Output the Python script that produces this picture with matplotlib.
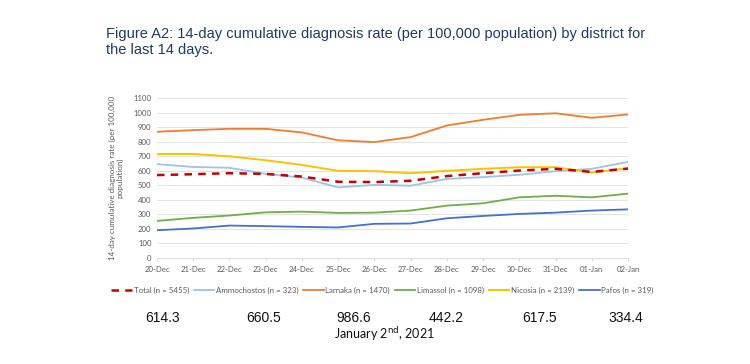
import matplotlib
matplotlib.use('Agg')
import matplotlib.pyplot as plt

# Datos
dates = ['20-Dec', '21-Dec', '22-Dec', '23-Dec', '24-Dec', '25-Dec', '26-Dec',
         '27-Dec', '28-Dec', '29-Dec', '30-Dec', '31-Dec', '01-Jan', '02-Jan']
total = [570, 576, 583, 578, 560, 524, 522, 531, 563, 583, 601, 613, 592, 614.3]
ammochostos = [645, 626, 620, 578, 553, 485, 503, 497, 544, 556, 572, 597, 613, 660.5]
larnaka = [868, 879, 888, 888, 863, 809, 797, 831, 911, 950, 984, 995, 964, 986.6]
limassol = [255, 276, 292, 314, 319, 310, 312, 326, 360, 376, 417, 428, 417, 442.2]
nicosia = [715, 715, 699, 672, 640, 599, 597, 583, 599, 613, 624, 624, 588, 617.5]
pafos = [191, 203, 223, 219, 214, 210, 235, 237, 273, 289, 303, 312, 326, 334.4]

series_labels = ['Total (n = 5455)', 'Ammochostos (n = 323)', 'Larnaka (n = 1470)',
                 'Limassol (n = 1098)', 'Nicosia (n = 2139)', 'Pafos (n = 319)']
last_values = ['614.3', '660.5', '986.6', '442.2', '617.5', '334.4']

plt.rcParams['font.family'] = ['Lato', 'DejaVu Sans']

fig = plt.figure(figsize=(7.5, 3.64), dpi=100)
ax = fig.add_axes([0.2093, 0.2912, 0.628, 0.4396])

x = list(range(len(dates)))
ax.plot(x, ammochostos, color='#9DC3E6', lw=1.3, label=series_labels[1])
ax.plot(x, larnaka, color='#ED7D31', lw=1.3, label=series_labels[2])
ax.plot(x, limassol, color='#70AD47', lw=1.3, label=series_labels[3])
ax.plot(x, nicosia, color='#FFC000', lw=1.4, label=series_labels[4])
ax.plot(x, pafos, color='#4472C4', lw=1.3, label=series_labels[5])
ax.plot(x, total, color='#C00000', lw=1.8, ls=(0, (3, 2.5)), label=series_labels[0])

ax.set_xlim(0, len(dates) - 1)
ax.set_ylim(0, 1100)
ax.set_yticks(range(0, 1101, 100))
ax.set_xticks(x)
ax.set_xticklabels(dates)
ax.tick_params(axis='both', labelsize=5.6, colors='#595959', length=0, pad=4)
ax.tick_params(axis='x', length=2, color='#D9D9D9', direction='out')
ax.grid(axis='y', color='#E3E3E3', lw=0.7)
ax.set_axisbelow(True)
for s in ['top', 'right', 'left']:
    ax.spines[s].set_visible(False)
ax.spines['bottom'].set_color('#D9D9D9')
ax.spines['bottom'].set_linewidth(0.7)

ax.set_ylabel('14-day cumulative diagnosis rate (per 100,000\npopulation)',
              fontsize=5.8, color='#595959', labelpad=7, linespacing=1.05)

# Leyenda en el orden original
handles, labels = ax.get_legend_handles_labels()
order = [5, 0, 1, 2, 3, 4]
fig.legend([handles[i] for i in order], [labels[i] for i in order],
           loc='center', bbox_to_anchor=(0.51, 0.203), ncol=6, fontsize=5.7,
           frameon=False, handlelength=2.6, columnspacing=0.6, handletextpad=0.2,
           labelcolor='#595959')

# Titulo
fig.text(0.1413, 0.925, 'Figure A2: 14-day cumulative diagnosis rate (per 100,000 population) by district for\nthe last 14 days.',
         fontsize=10.5, color='#1F3A60', ha='left', va='top', linespacing=1.15,
         family=['Liberation Sans'])

# Valores del ultimo dia
xs = [0.217, 0.351, 0.471, 0.595, 0.72, 0.835]
for xp, v in zip(xs, last_values):
    fig.text(xp, 0.127, v, fontsize=10, ha='center', va='center', color='#111111',
             family=['Liberation Sans'])
fig.text(0.513, 0.083, 'January 2$^{\\mathrm{nd}}$, 2021', fontsize=9, ha='center',
         va='center', color='#111111')

plt.savefig('out.png', dpi=100)
plt.close()
